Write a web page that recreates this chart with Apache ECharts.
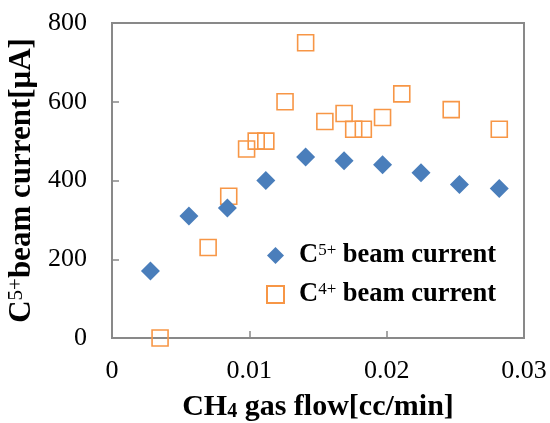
<!DOCTYPE html>
<html><head><meta charset="utf-8">
<script src="https://cdn.jsdelivr.net/npm/echarts@6/dist/echarts.min.js"></script>
<style>html,body{margin:0;padding:0;background:#fff}#c{width:550px;height:423px}</style>
</head><body><div id="c"></div>
<script>
var xC5 = [0.0028, 0.0056, 0.0084, 0.0112, 0.0141, 0.0169, 0.0197, 0.0225, 0.0253, 0.0282];
var yC5 = [170, 310, 330, 400, 460, 450, 440, 420, 390, 380];
var xC4 = [0.0035, 0.0070, 0.0085, 0.0098, 0.0105, 0.0112, 0.0126, 0.0141, 0.0155, 0.0169, 0.0176, 0.0183, 0.0197, 0.0211, 0.0247, 0.0282];
var yC4 = [0, 230, 360, 480, 500, 500, 600, 750, 550, 570, 530, 530, 560, 620, 580, 530];
var xTicks = [0, 0.01, 0.02, 0.03];
var yTicks = [0, 200, 400, 600, 800];
var nameC5 = 'C5+ beam current', nameC4 = 'C4+ beam current';

function pairs(xs, ys){ return xs.map(function(x,i){ return [x, ys[i]]; }); }

var FONT = 'Liberation Serif';
var axisGray = '#898989';
var chart = echarts.init(document.getElementById('c'), null, {renderer:'canvas'});
chart.setOption({
  animation: false,
  grid: {left:112, right:26, top:23, bottom:85, containLabel:false, outerBoundsMode:'none',
         show:true, borderColor:axisGray, borderWidth:2, backgroundColor:'transparent'},
  xAxis: {
    type:'value', min:xTicks[0], max:xTicks[xTicks.length-1], interval:0.01,
    splitLine:{show:false},
    axisLine:{lineStyle:{color:axisGray, width:2}},
    axisTick:{inside:true, length:7, lineStyle:{color:axisGray, width:1.5}},
    axisLabel:{margin:20, color:'#000', fontFamily:FONT, fontSize:26, formatter:function(v){return String(Math.round(v*100)/100);}},
    name:'{a|CH}{s|4}{a| gas flow[cc/min]}', nameLocation:'middle', nameGap:50,
    nameTextStyle:{rich:{
      a:{fontFamily:FONT, fontWeight:'bold', fontSize:30, color:'#000', verticalAlign:'bottom', lineHeight:34},
      s:{fontFamily:FONT, fontWeight:'bold', fontSize:20, color:'#000', verticalAlign:'bottom', lineHeight:28}
    }}
  },
  yAxis: {
    type:'value', min:yTicks[0], max:yTicks[yTicks.length-1], interval:200,
    splitLine:{show:false},
    axisLine:{lineStyle:{color:axisGray, width:2}},
    axisTick:{inside:true, length:7, lineStyle:{color:axisGray, width:1.5}},
    axisLabel:{margin:25, color:'#000', fontFamily:FONT, fontSize:26},
    name:'{a|C}{s|5+}{a|beam current[μA]}', nameLocation:'middle', nameGap:62, nameRotate:90,
    nameTextStyle:{rich:{
      a:{fontFamily:FONT, fontWeight:'bold', fontSize:31, color:'#000', verticalAlign:'top', lineHeight:34},
      s:{fontFamily:FONT, fontWeight:'normal', fontSize:21, color:'#000', verticalAlign:'top', lineHeight:24}
    }}
  },
  legend: {
    orient:'vertical', left:261, top:237, itemWidth:17, itemHeight:17, itemGap:12,
    data:[nameC5, nameC4],
    formatter:function(n){ return n===nameC5 ? '{a|C}{s|5+}{b| beam current}' : '{a|C}{s|4+}{b| beam current}'; },
    textStyle:{rich:{
      a:{fontFamily:FONT, fontWeight:'bold', fontSize:26.5, color:'#000', verticalAlign:'top', lineHeight:27, padding:[0,0,0,10]},
      s:{fontFamily:FONT, fontWeight:'normal', fontSize:17, color:'#000', verticalAlign:'top', lineHeight:20},
      b:{fontFamily:FONT, fontWeight:'bold', fontSize:26.5, color:'#000', verticalAlign:'top', lineHeight:27}
    }}
  },
  series: [
    {name:nameC5, type:'scatter', symbol:'diamond', symbolSize:19, z:3, data:pairs(xC5,yC5),
     itemStyle:{color:'#4A7EBB', opacity:1}},
    {name:nameC4, type:'scatter', symbol:'rect', symbolSize:16, z:2, data:pairs(xC4,yC4),
     itemStyle:{color:'rgba(0,0,0,0)', borderColor:'#F79646', borderWidth:1.6, opacity:1}}
  ]
});
</script></body></html>
